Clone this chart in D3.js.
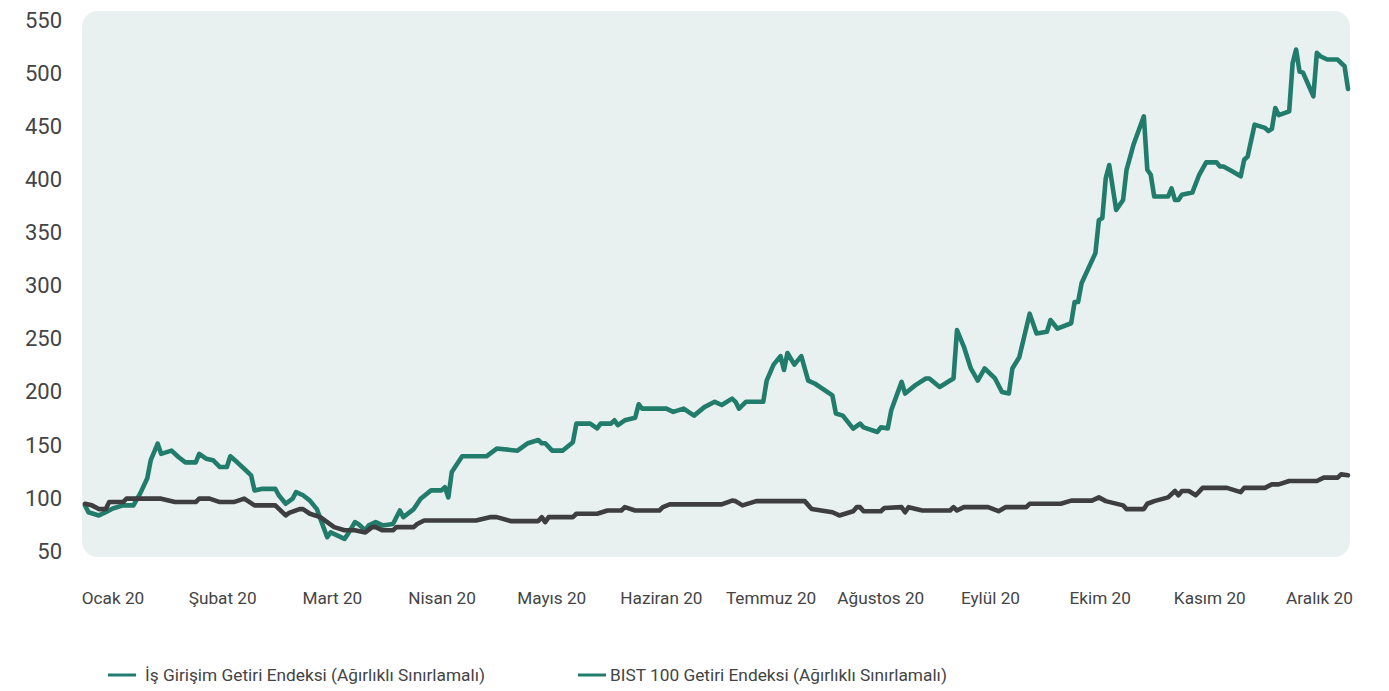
<!DOCTYPE html>
<html>
<head>
<meta charset="utf-8">
<script src="https://cdn.jsdelivr.net/npm/d3@7"></script>
<style>
  html, body { margin: 0; padding: 0; background: #ffffff; }
  svg { display: block; font-family: Roboto, "Noto Sans", sans-serif; }
</style>
</head>
<body>
<svg id="chart" width="1389" height="691"></svg>
<script>
// ---- data (x = day of year 2020, y = index value) ----
const monthLabels = ["Ocak 20", "Şubat 20", "Mart 20", "Nisan 20", "Mayıs 20", "Haziran 20",
  "Temmuz 20", "Ağustos 20", "Eylül 20", "Ekim 20", "Kasım 20", "Aralık 20"];
const yTicks = [50, 100, 150, 200, 250, 300, 350, 400, 450, 500, 550];
const seriesNames = ["İş Girişim Getiri Endeksi (Ağırlıklı Sınırlamalı)", "BIST 100 Getiri Endeksi (Ağırlıklı Sınırlamalı)"];

const tealDays = [0, 1, 4, 6, 8, 11, 14, 16, 18, 19, 21, 22, 25, 27, 29, 32, 33, 35, 37, 39, 41, 42, 44, 46, 48, 49, 51, 55, 56, 58,
  60, 61, 63, 65, 67, 68, 70, 71, 73, 75, 76, 78, 79, 81, 82, 84, 86, 89, 91, 92, 95, 97, 100, 103, 104, 105, 106, 109, 116, 119,
  125, 128, 131, 132, 133, 135, 138, 141, 142, 146, 148, 149, 152, 153, 154, 156, 159, 160, 161, 168, 170, 173, 176, 179, 182, 184,
  187, 188, 189, 191, 196, 197, 199, 201, 202, 203, 205, 207, 209, 211, 216, 217, 219, 222, 224, 225, 229, 230, 232, 233, 236, 237,
  240, 243, 244, 247, 250, 251, 252, 254, 256, 258, 260, 263, 265, 267, 268, 270, 273, 275, 278, 279, 281, 285, 286, 287, 288, 292,
  293, 294, 295, 296, 298, 300, 301, 303, 306, 307, 308, 309, 313, 314, 315, 316, 317, 320, 322, 324, 327, 328, 329, 331, 334, 335,
  336, 338, 341, 342, 343, 344, 345, 348, 349, 350, 351, 352, 355, 356, 357, 359, 362, 364, 365];
const tealValues = [92.5, 86, 83, 86, 89.6, 92.5, 92.5, 104, 118, 135, 150.6, 141, 144, 138, 133, 133, 141, 136.5, 135, 128.6, 128.6, 138.7, 133, 127, 120.8, 106.6, 108, 108, 102, 94,
  98.8, 105, 102, 97, 89, 80, 62.5, 67, 64, 61, 65.7, 76.7, 75, 69, 73.6, 76.7, 73.6, 75, 87.7, 81.4, 89, 98.8, 106.6, 106.6, 109.7, 100, 123.9, 138.7, 138.7, 146,
  144, 151, 154, 151, 151, 144, 144, 152, 169.5, 169.5, 165, 169.5, 169.5, 172.6, 168, 172.6, 175, 187.7, 183.6, 183.6, 180.5, 183.6, 177, 185, 190, 187,
  193, 190, 183.6, 190, 190, 210, 225, 233, 220, 236, 225, 233, 210, 207, 196, 179, 177, 164.8, 169.5, 166, 161.6, 166, 165, 182, 208.8, 197.8,
  205.7, 212, 212, 204, 210, 212, 257.5, 241.8, 221.4, 210, 221.4, 212, 199.3, 197.8, 221.4, 232, 273, 254.4, 256, 267, 259, 264, 284, 284, 301.6, 330,
  361, 363, 400.7, 413, 370.7, 380, 408.5, 432, 458.8, 408.5, 403.8, 383.3, 383.3, 391, 380, 380, 385, 387, 403.8, 415.5, 415.5, 411.6, 411.6, 408, 402.3, 418,
  421, 451, 448, 445, 447, 466.7, 460, 463.5, 509, 521.7, 501, 500, 477.7, 518.6, 515.4, 512.3, 512.3, 506, 484.6];

const darkDays = [0, 2, 4, 6, 7, 11, 12, 22, 26, 32, 33, 36, 39, 43, 46, 49, 55, 58, 59, 62, 63, 65, 68, 70, 72, 75, 78, 81, 83, 84,
  86, 89, 90, 95, 96, 98, 113, 117, 119, 123, 131, 132, 133, 134, 141, 142, 148, 151, 155, 156, 159, 166, 167, 169, 184, 187, 188,
  190, 194, 208, 210, 216, 218, 222, 223, 224, 225, 230, 231, 236, 237, 238, 242, 250, 251, 252, 254, 261, 264, 266, 272, 273, 282,
  285, 291, 293, 295, 300, 301, 306, 307, 309, 313, 315, 316, 317, 319, 321, 323, 330, 334, 335, 341, 343, 345, 348, 356, 358, 362,
  363, 365];
const darkValues = [94, 92.5, 89, 89, 95.6, 95.6, 98.8, 98.8, 95.6, 95.6, 98.8, 98.8, 95.6, 95.6, 98.8, 92.5, 92.5, 83, 85.4, 89, 89, 84.6, 81.4, 76.7, 72, 69, 69, 67, 72, 72,
  69, 69, 72, 72, 75, 78.3, 78.3, 81.4, 81.4, 77.7, 77.7, 81.4, 76.7, 81.4, 81.4, 84.6, 84.6, 87.7, 87.7, 90.8, 87.7, 87.7, 90.8, 93.4, 93.4, 97, 96.5,
  92.5, 96.5, 96.5, 89, 86, 83, 87, 90.8, 90.8, 87, 87, 90, 90.8, 86, 90.8, 87.7, 87.7, 90.8, 87.7, 90.8, 90.8, 87, 90.8, 90.8, 94, 94,
  97, 97, 100, 96.5, 92.5, 89, 89, 94, 96.5, 100, 106, 102, 106, 106, 102, 109, 109, 105, 109, 109, 112.3, 112.3, 115.4, 115.4, 118.6, 118.6,
  121.7, 120.8];

// ---- layout ----
const svg = d3.select("#chart");
const panel = { left: 82, right: 1350, top: 11, bottom: 557 };
const x = d3.scaleLinear().domain([0, 365]).range([85, 1348]);
const y = d3.scaleLinear().domain([50, 550]).range([550.5, 19.5]);
const xLab = d3.scalePoint().domain(monthLabels).range([112.5, 1319]);

const teal = "#217c6c";
const dark = "#3e3d3f";
const textColor = "#444444";

// background panel
svg.append("rect")
  .attr("x", panel.left).attr("y", panel.top)
  .attr("width", panel.right - panel.left).attr("height", panel.bottom - panel.top)
  .attr("rx", 16).attr("ry", 16)
  .attr("fill", "#e8f1ef");

// y axis
const yAxis = svg.append("g").attr("transform", "translate(62,0)")
  .call(d3.axisLeft(y).tickValues(yTicks).tickSize(0).tickPadding(0));
yAxis.select(".domain").remove();
yAxis.selectAll("text").attr("fill", textColor).style("font-size", "22px")
  .style("font-family", "Roboto, sans-serif").attr("dy", "0.35em");

// x axis labels
const xAxis = svg.append("g").attr("transform", "translate(0,598)")
  .call(d3.axisBottom(xLab).tickSize(0).tickPadding(0));
xAxis.select(".domain").remove();
xAxis.selectAll("text").attr("fill", textColor).style("font-size", "17.2px")
  .style("font-family", "Roboto, sans-serif").attr("dy", "0.35em");

// lines
const tealData = tealDays.map((d, i) => [d, tealValues[i]]);
const darkData = darkDays.map((d, i) => [d, darkValues[i]]);
const line = d3.line().x(d => x(d[0])).y(d => y(d[1]));

svg.append("path").datum(tealData)
  .attr("d", line).attr("fill", "none").attr("stroke", teal)
  .attr("stroke-width", 4.6).attr("stroke-linejoin", "round").attr("stroke-linecap", "round");
svg.append("path").datum(darkData)
  .attr("d", line).attr("fill", "none").attr("stroke", dark)
  .attr("stroke-width", 4.6).attr("stroke-linejoin", "round").attr("stroke-linecap", "round");

// legend
const legendItems = [
  { dash: 108, text: 145 },
  { dash: 578, text: 610 }
];
const legend = svg.append("g");
seriesNames.forEach((name, i) => {
  const it = legendItems[i];
  const g = legend.append("g").attr("transform", "translate(0,675)");
  g.append("line").attr("x1", it.dash).attr("x2", it.dash + 28).attr("y1", 0).attr("y2", 0)
    .attr("stroke", teal).attr("stroke-width", 3);
  g.append("text").attr("x", it.text).attr("y", 0).attr("dy", "0.35em")
    .attr("fill", textColor).style("font-size", "17.3px").style("font-family", "Roboto, sans-serif")
    .text(name);
});
</script>
</body>
</html>
